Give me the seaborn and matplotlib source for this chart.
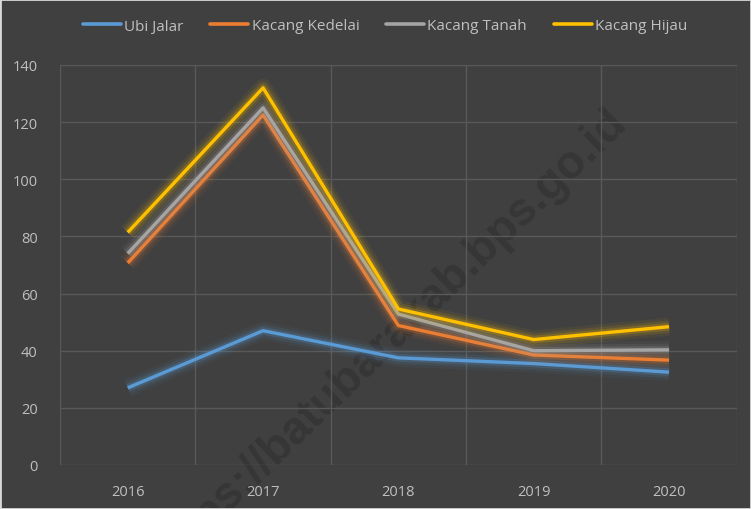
import pandas as pd
import seaborn as sns
import matplotlib.pyplot as plt
import matplotlib.patheffects as pe

years = ["2016", "2017", "2018", "2019", "2020"]
ubi_jalar = [27, 47, 37.5, 35.5, 32.5]
kacang_kedelai = [70.7, 122.5, 48.8, 38.5, 36.7]
kacang_tanah = [74, 125, 52.8, 40, 40.3]
kacang_hijau = [81.4, 132, 54.6, 43.9, 48.4]

series = {
    "Ubi Jalar": ubi_jalar,
    "Kacang Kedelai": kacang_kedelai,
    "Kacang Tanah": kacang_tanah,
    "Kacang Hijau": kacang_hijau,
}
colors = ["#5b9bd5", "#ed7d31", "#a5a5a5", "#ffc000"]

rows = []
for name, vals in series.items():
    for i, v in enumerate(vals):
        rows.append({"idx": i, "year": years[i], "value": v, "series": name})
df = pd.DataFrame(rows)

bg = "#404040"
txt = "#bfbfbf"
grid = "#595959"

sns.set_theme(style="dark")
plt.rcParams["font.family"] = ["Open Sans", "DejaVu Sans"]

fig = plt.figure(figsize=(7.51, 5.10), dpi=100, facecolor=bg)
ax = fig.add_axes([0.08, 0.0863, 0.901, 0.7843])
ax.set_facecolor(bg)

# watermark sits behind the data (cut by the bottom edge, as in the source)
fig.text(0.518, 0.335, "https://batubarakab.bps.go.id", rotation=44,
         fontsize=33, color="#363636", ha="center", va="center",
         fontweight="bold", family=["Liberation Sans", "DejaVu Sans"],
         zorder=0.5)
ax.set_zorder(1)
ax.patch.set_alpha(0)

sns.lineplot(data=df, x="idx", y="value", hue="series", palette=colors,
             linewidth=2.4, ax=ax, legend=True)

# soft glow around each line
for line, c in zip(ax.lines, colors):
    line.set_path_effects([
        pe.Stroke(linewidth=13, foreground=c, alpha=0.06),
        pe.Stroke(linewidth=9, foreground=c, alpha=0.1),
        pe.Stroke(linewidth=5.5, foreground=c, alpha=0.2),
        pe.Normal(),
    ])
    line.set_solid_capstyle("butt")

ax.set_xlim(-0.5, 4.5)
ax.set_ylim(0, 140)
ax.set_yticks(range(0, 141, 20))
ax.set_xticks(range(5))
ax.set_xticklabels(years)
ax.set_xticks([-0.5, 0.5, 1.5, 2.5, 3.5, 4.5], minor=True)
ax.grid(False)
ax.yaxis.grid(True, color=grid, linewidth=1)
ax.xaxis.grid(True, which="minor", color=grid, linewidth=1)
ax.tick_params(axis="both", which="both", length=0, colors=txt, labelsize=10.5)
ax.tick_params(axis="x", pad=14)
ax.tick_params(axis="y", pad=16)
ax.set_xlabel("")
ax.set_ylabel("")
for s in ax.spines.values():
    s.set_visible(False)

handles, labels = ax.get_legend_handles_labels()
for h in handles:
    h.set_linewidth(2.6)
leg = ax.legend(handles, labels, loc="center", ncol=4, frameon=False,
                fontsize=11, handlelength=2.5, handletextpad=0.2,
                columnspacing=1.75, labelcolor=txt)
leg.set_bbox_to_anchor((385 / 751, 1 - 27 / 510), transform=fig.transFigure)

fig.patches.append(plt.Rectangle((0, 0), 1, 1, transform=fig.transFigure,
                                 fill=False, edgecolor="#d9d9d9", linewidth=2))

fig.savefig("out.png", dpi=100, facecolor=bg)
